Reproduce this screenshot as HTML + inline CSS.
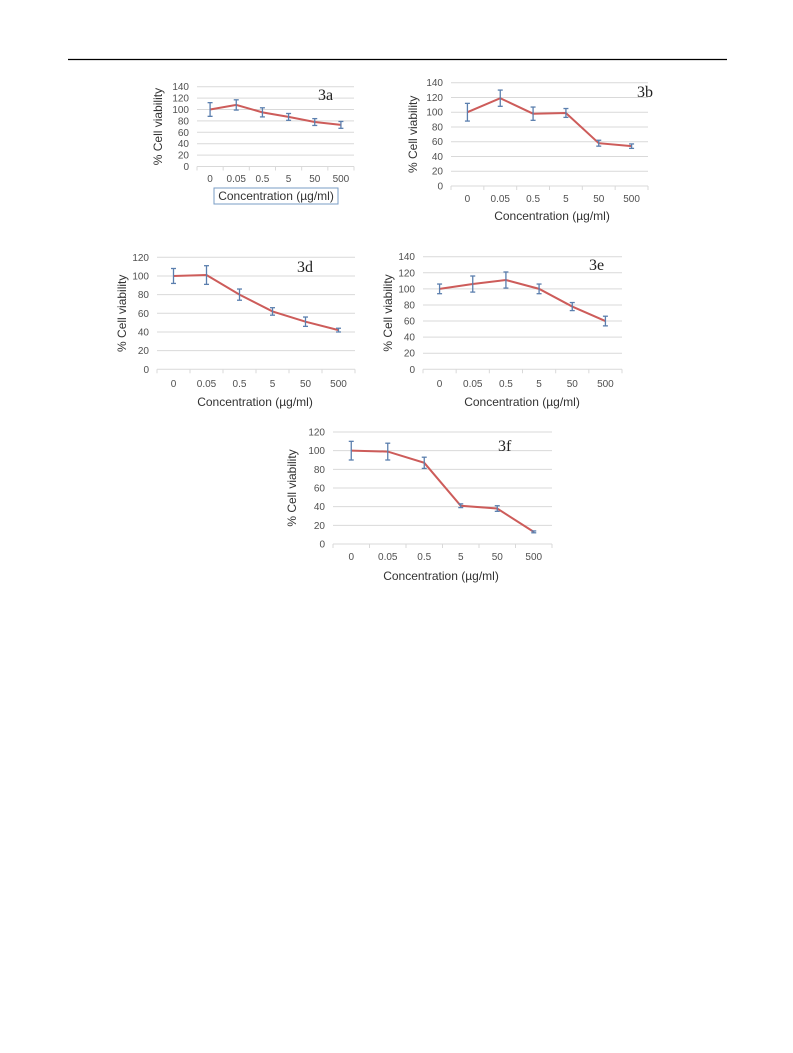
<!DOCTYPE html>
<html><head><meta charset="utf-8"><style>
html,body{margin:0;padding:0;background:#fff;}
svg{display:block;font-family:"Liberation Sans",sans-serif;}
</style></head><body>
<svg id="fig" width="793" height="1053" viewBox="0 0 793 1053" xmlns="http://www.w3.org/2000/svg">
<line x1="68" y1="59.5" x2="727" y2="59.5" stroke="#000" stroke-width="1.2"/>
</svg>
<script>
const categories = ["0","0.05","0.5","5","50","500"];
const values3a = [100,108,95,87,78,73];
const errors3a = [12,9,8,6,6,6];
const values3b = [100,119,98,99,58,54];
const errors3b = [12,11,9,6,4,3];
const values3d = [100,101,80,62,51,42];
const errors3d = [8,10,6,4,5,2];
const values3e = [100,106,111,100,78,60];
const errors3e = [6,10,10,6,5,6];
const values3f = [100,99,87,41,38,13];
const errors3f = [10,9,6,2,3,1];
const ticks3a = [0,20,40,60,80,100,120,140];
const ticks3b = [0,20,40,60,80,100,120,140];
const ticks3d = [0,20,40,60,80,100,120];
const ticks3e = [0,20,40,60,80,100,120,140];
const ticks3f = [0,20,40,60,80,100,120];

const NS = "http://www.w3.org/2000/svg";
const svg = document.getElementById("fig");
function mk(tag, attrs, parent, text){
  const e = document.createElementNS(NS, tag);
  for (const k in attrs) e.setAttribute(k, attrs[k]);
  if (text !== undefined) e.textContent = text;
  parent.appendChild(e);
  return e;
}
function drawChart(id, label, vals, errs, ticks, L){
  const g = mk("g", {}, svg);
  
  
  const tmax = ticks[ticks.length-1];
  const y = v => L.y0 - (v / tmax) * (L.y0 - L.yTop);
  const cw = (L.right - L.left) / categories.length;
  const x = i => L.left + cw * (i + 0.5);
  ticks.forEach(t => {
    const gl = mk("line", {x1:L.left, x2:L.right, y1:y(t), y2:y(t), stroke: "#d9d9d9", "stroke-width":1}, g);
    
    
    const tl = mk("text", {x:L.left-8, y:y(t)+3.5, "text-anchor":"end", "font-size":L.fs, fill:"#505050"}, g, String(t));
    
    
  });
  for (let i=0;i<=categories.length;i++){
    const tk = mk("line", {x1:L.left+cw*i, x2:L.left+cw*i, y1:L.y0, y2:L.y0+4, stroke:"#d9d9d9"}, g);
    
    
  }
  categories.forEach((c,i) => {
    const xl = mk("text", {x:x(i), y:L.tickY, "text-anchor":"middle", "font-size":L.fs, fill:"#505050"}, g, c);
    
    
  });
  const pts = vals.map((v,i) => x(i)+","+y(v)).join(" ");
  const line = mk("polyline", {points:pts, fill:"none", stroke:"#cd5c5a", "stroke-width":2}, g);
  
  
  vals.forEach((v,i) => {
    const eb = mk("g", {stroke:"#5b7fae", "stroke-width":1.3}, g);
    
    
    const e = errs[i];
    mk("line", {x1:x(i), x2:x(i), y1:y(v+e), y2:y(v-e)}, eb);
    mk("line", {x1:x(i)-2.5, x2:x(i)+2.5, y1:y(v+e), y2:y(v+e)}, eb);
    mk("line", {x1:x(i)-2.5, x2:x(i)+2.5, y1:y(v-e), y2:y(v-e)}, eb);
  });
  const yt = mk("text", {transform:`translate(${L.yTitleX},${(L.y0+L.yTop)/2}) rotate(-90)`, "text-anchor":"middle", "font-size":L.fs+2, fill:"#333"}, g, "% Cell viability");
  
  
  const xt = mk("text", {x:L.xTitleX, y:L.xTitleY, "text-anchor":"middle", "font-size":L.fs+2, fill:"#333"}, g, "Concentration (µg/ml)");
  
  
  if (L.box){
    const bx = mk("rect", {x:L.box[0], y:L.box[1], width:L.box[2], height:L.box[3], fill:"none", stroke:"#7a9cc6", "stroke-width":1}, g);
    
    
  }
  const pl = mk("text", {x:L.labX, y:L.labY, "font-family":"Liberation Serif, serif", "font-size":16, fill:"#222"}, g, label);
  
  
}
drawChart("3a","3a",values3a,errors3a,ticks3a,{left:197,right:354,yTop:86.7,y0:166.5,fs:10,tickY:182,yTitleX:162,xTitleX:276,xTitleY:200,box:[214,188,124,16],labX:318,labY:100});
drawChart("3b","3b",values3b,errors3b,ticks3b,{left:451,right:648,yTop:82.7,y0:186,fs:10,tickY:202,yTitleX:417,xTitleX:552,xTitleY:220,labX:637,labY:97});
drawChart("3d","3d",values3d,errors3d,ticks3d,{left:157,right:355,yTop:257.3,y0:369.3,fs:10,tickY:387,yTitleX:126,xTitleX:255,xTitleY:406,labX:297,labY:272});
drawChart("3e","3e",values3e,errors3e,ticks3e,{left:423,right:622,yTop:256.7,y0:369.3,fs:10,tickY:387,yTitleX:392,xTitleX:522,xTitleY:406,labX:589,labY:270});
drawChart("3f","3f",values3f,errors3f,ticks3f,{left:333,right:552,yTop:432,y0:544,fs:10,tickY:560,yTitleX:296,xTitleX:441,xTitleY:580,labX:498,labY:451});
</script>
</body></html>
